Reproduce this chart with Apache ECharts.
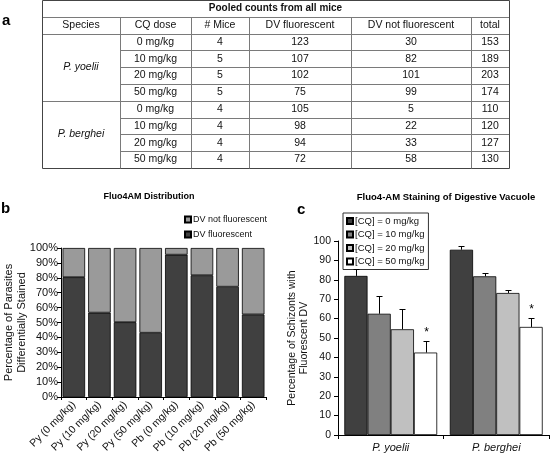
<!DOCTYPE html>
<html><head><meta charset="utf-8">
<script src="https://cdn.jsdelivr.net/npm/echarts@6/dist/echarts.min.js"></script>
<style>html,body{margin:0;padding:0;background:#fff}#chart{width:550px;height:458px}</style>
</head><body><div id="chart"></div>
<script>
const FONT = '"Liberation Sans", Arial, sans-serif';

// ---- Panel a: table ----
const tableTitle = 'Pooled counts from all mice';
const tableHeaders = ['Species', 'CQ dose', '# Mice', 'DV fluorescent', 'DV not fluorescent', 'total'];
const speciesNames = ['P. yoelii', 'P. berghei'];
const doseLabels = ['0 mg/kg', '10 mg/kg', '20 mg/kg', '50 mg/kg'];
const miceCounts = [4, 5, 5, 5, 4, 4, 4, 4];
const dvFluorescentCounts = [123, 107, 102, 75, 105, 98, 94, 72];
const dvNotFluorescentCounts = [30, 82, 101, 99, 5, 22, 33, 58];
const totalCounts = [153, 189, 203, 174, 110, 120, 127, 130];

// ---- Panel b: Fluo4AM distribution ----
const distCategories = ['Py (0 mg/kg)', 'Py (10 mg/kg)', 'Py (20 mg/kg)', 'Py (50 mg/kg)',
  'Pb (0 mg/kg)', 'Pb (10 mg/kg)', 'Pb (20 mg/kg)', 'Pb (50 mg/kg)'];
const pctFluorescent = [80.4, 56.6, 50.2, 43.1, 95.5, 81.7, 74.0, 55.4];
const pctNotFluorescent = [19.6, 43.4, 49.8, 56.9, 4.5, 18.3, 26.0, 44.6];
const distTickLabels = ['0%', '10%', '20%', '30%', '40%', '50%', '60%', '70%', '80%', '90%', '100%'];

// ---- Panel c: staining of digestive vacuole ----
const stainCategories = ['P. yoelii', 'P. berghei'];
const cqNames = ['[CQ] = 0 mg/kg', '[CQ] = 10 mg/kg', '[CQ] = 20 mg/kg', '[CQ] = 50 mg/kg'];
const cq0Means = [82.0, 95.5];
const cq10Means = [62.5, 81.8];
const cq20Means = [54.5, 73.2];
const cq50Means = [42.5, 55.7];
const cq0Errors = [3.5, 2.0];
const cq10Errors = [9.2, 1.5];
const cq20Errors = [10.5, 1.8];
const cq50Errors = [6.0, 4.5];
const cq50Significant = [1, 1];

const cqMeans = [cq0Means, cq10Means, cq20Means, cq50Means];
const cqErrors = [cq0Errors, cq10Errors, cq20Errors, cq50Errors];
const cqSig = [[0, 0], [0, 0], [0, 0], cq50Significant];
const cqColors = ['#404040', '#808080', '#c0c0c0', '#ffffff'];
const CAT_GAP = 0.12;

// ---- table graphic ----
const colX = [42, 120, 191, 249, 351, 471, 509];
const rowH = 16.8;
const tEls = [];
function hline(x1, x2, y, c) {
  const yy = Math.round(y) + 0.5;
  tEls.push({type: 'line', shape: {x1: x1 + 0.5, y1: yy, x2: x2 + 0.5, y2: yy}, style: {stroke: c, lineWidth: 1}, silent: true});
}
function vline(x, y1, y2, c) {
  const xx = x + 0.5;
  tEls.push({type: 'line', shape: {x1: xx, y1: Math.round(y1) + 0.5, x2: xx, y2: Math.round(y2) + 0.5}, style: {stroke: c, lineWidth: 1}, silent: true});
}
function cellText(t, x, y, opts) {
  tEls.push({type: 'text', x: x, y: y, silent: true,
    style: Object.assign({text: String(t), align: 'center', verticalAlign: 'middle', fontFamily: FONT, fontSize: 10.5, fill: '#111'}, opts || {})});
}
const inner = '#7a7a7a', outer = '#444';
hline(colX[0], colX[6], 0, outer);
hline(colX[0], colX[6], rowH, inner);
hline(colX[0], colX[6], rowH * 2, inner);
for (let r = 1; r < 8; r++) {
  const y = rowH * (2 + r);
  if (r === 4) hline(colX[0], colX[6], y, inner); else hline(colX[1], colX[6], y, inner);
}
hline(colX[0], colX[6], rowH * 10, outer);
vline(colX[0], 0, rowH * 10, outer);
vline(colX[6], 0, rowH * 10, outer);
for (let c = 1; c < 6; c++) vline(colX[c], rowH, rowH * 10, inner);
cellText(tableTitle, (colX[0] + colX[6]) / 2, rowH / 2, {fontWeight: 'bold', fontSize: 10});
tableHeaders.forEach((h, i) => cellText(h, (colX[i] + colX[i + 1]) / 2, rowH * 1.5));
speciesNames.forEach((s, i) => cellText(s, (colX[0] + colX[1]) / 2, rowH * (2 + i * 4 + 2), {fontStyle: 'italic'}));
for (let r = 0; r < 8; r++) {
  const y = rowH * (2.5 + r);
  const vals = [doseLabels[r % 4], miceCounts[r], dvFluorescentCounts[r], dvNotFluorescentCounts[r], totalCounts[r]];
  vals.forEach((v, i) => cellText(v, (colX[i + 1] + colX[i + 2]) / 2, y));
}

const labelEls = [
  {type: 'text', x: 2, y: 13, style: {text: 'a', fontFamily: FONT, fontWeight: 'bold', fontSize: 15, fill: '#000', verticalAlign: 'alphabetic'}},
  {type: 'text', x: 1, y: 201, style: {text: 'b', fontFamily: FONT, fontWeight: 'bold', fontSize: 15, fill: '#000', verticalAlign: 'alphabetic'}},
  {type: 'text', x: 297, y: 202, style: {text: 'c', fontFamily: FONT, fontWeight: 'bold', fontSize: 15, fill: '#000', verticalAlign: 'alphabetic'}},
  {type: 'text', x: 149, y: 197, style: {text: 'Fluo4AM Distribution', fontFamily: FONT, fontWeight: 'bold', fontSize: 9, fill: '#000', align: 'center', verticalAlign: 'middle'}},
  {type: 'text', x: 446, y: 197, style: {text: 'Fluo4-AM Staining of Digestive Vacuole', fontFamily: FONT, fontWeight: 'bold', fontSize: 9.5, fill: '#000', align: 'center', verticalAlign: 'middle'}}
];

const errData = [];
for (let d = 0; d < 4; d++) for (let i = 0; i < 2; i++) errData.push([i, cqMeans[d][i], cqErrors[d][i], d, cqSig[d][i]]);

function renderErr(params, api) {
  const cat = api.value(0), mean = api.value(1), err = api.value(2), d = api.value(3), sig = api.value(4);
  const base = api.coord([cat, mean]);
  const band = api.size([1, 0])[0];
  const bw = band * (1 - CAT_GAP) / 4;
  const x = Math.round(base[0] + (d - 1.5) * bw) + 0.5;
  const yTop = Math.round(api.coord([cat, mean + err])[1]) + 0.5;
  const children = [
    {type: 'line', shape: {x1: x, y1: base[1], x2: x, y2: yTop}, style: {stroke: '#000', lineWidth: 1}},
    {type: 'line', shape: {x1: x - 3, y1: yTop, x2: x + 3, y2: yTop}, style: {stroke: '#000', lineWidth: 1}}
  ];
  if (sig) children.push({type: 'text', x: x, y: yTop - 3, style: {text: '*', align: 'center', verticalAlign: 'bottom', fontFamily: FONT, fontSize: 12, fill: '#000'}});
  return {type: 'group', children: children};
}

const axisCommon = {
  axisLine: {show: true, lineStyle: {color: '#000', width: 1}},
  axisTick: {show: true, inside: false, length: 4, lineStyle: {color: '#000'}},
  splitLine: {show: false}
};

const chart = echarts.init(document.getElementById('chart'), null, {renderer: 'canvas'});
chart.setOption({
  animation: false,
  backgroundColor: '#fff',
  textStyle: {fontFamily: FONT},
  grid: [
    {left: 61, top: 248, width: 205, height: 149, outerBoundsMode: 'none', containLabel: false},
    {left: 338, top: 241, width: 211, height: 194, outerBoundsMode: 'none', containLabel: false}
  ],
  legend: [
    {data: ['DV not fluorescent', 'DV fluorescent'], orient: 'vertical', left: 184, top: 215, padding: 0,
      itemWidth: 6, itemHeight: 6, itemGap: 6, icon: 'rect', selectedMode: false,
      textStyle: {fontFamily: FONT, fontSize: 9, color: '#111', padding: [0, 0, 0, -3]}},
    {data: cqNames, orient: 'vertical', left: 343, top: 213, padding: [3, 4, 3, 3],
      borderColor: '#333', borderWidth: 1, itemWidth: 6, itemHeight: 6, itemGap: 3.5, icon: 'rect', selectedMode: false,
      textStyle: {fontFamily: FONT, fontSize: 9.5, color: '#111', padding: [0, 0, 0, -3]}}
  ],
  xAxis: [
    Object.assign({}, axisCommon, {type: 'category', gridIndex: 0, data: distCategories,
      axisTick: {show: true, length: 3, alignWithLabel: false, lineStyle: {color: '#000'}},
      axisLabel: {rotate: 45, fontSize: 10.5, color: '#111', margin: 6, interval: 0, fontFamily: FONT}}),
    Object.assign({}, axisCommon, {type: 'category', gridIndex: 1, data: stainCategories,
      axisTick: {show: true, length: 4, alignWithLabel: false, lineStyle: {color: '#000'}},
      axisLabel: {fontSize: 11, fontStyle: 'italic', color: '#111', margin: 7, fontFamily: FONT}})
  ],
  yAxis: [
    Object.assign({}, axisCommon, {type: 'value', gridIndex: 0, min: 0, max: 100, interval: 10,
      axisLabel: {fontSize: 11, color: '#111', margin: 3, fontFamily: FONT,
        formatter: (v) => distTickLabels[Math.round(v / 10)]},
      name: 'Percentage of Parasites\nDifferentially Stained', nameLocation: 'middle', nameGap: 33, nameMoveOverlap: false,
      nameTextStyle: {fontSize: 11, lineHeight: 13, color: '#111', fontFamily: FONT}}),
    Object.assign({}, axisCommon, {type: 'value', gridIndex: 1, min: 0, max: 100, interval: 10,
      axisLabel: {fontSize: 10.5, color: '#111', margin: 7, fontFamily: FONT},
      name: 'Percentage of Schizonts with\nFluorescent DV', nameLocation: 'middle', nameGap: 28, nameMoveOverlap: false,
      nameTextStyle: {fontSize: 10.5, lineHeight: 12, color: '#111', fontFamily: FONT}})
  ],
  series: [
    {name: 'DV fluorescent', type: 'bar', stack: 'b', xAxisIndex: 0, yAxisIndex: 0, data: pctFluorescent,
      barCategoryGap: '12%', itemStyle: {color: '#404040', borderColor: '#000', borderWidth: 0.8}},
    {name: 'DV not fluorescent', type: 'bar', stack: 'b', xAxisIndex: 0, yAxisIndex: 0, data: pctNotFluorescent,
      barCategoryGap: '12%', itemStyle: {color: '#9a9a9a', borderColor: '#000', borderWidth: 0.8}}
  ].concat(cqNames.map((n, d) => ({
    name: n, type: 'bar', xAxisIndex: 1, yAxisIndex: 1, data: cqMeans[d],
    barGap: '0%', barCategoryGap: (CAT_GAP * 100) + '%',
    itemStyle: {color: cqColors[d], borderColor: '#000', borderWidth: 0.8}
  }))).concat([{
    type: 'custom', xAxisIndex: 1, yAxisIndex: 1, data: errData, renderItem: renderErr, z: 5, silent: true
  }]),
  graphic: tEls.concat(labelEls)
});
</script>
</body></html>
